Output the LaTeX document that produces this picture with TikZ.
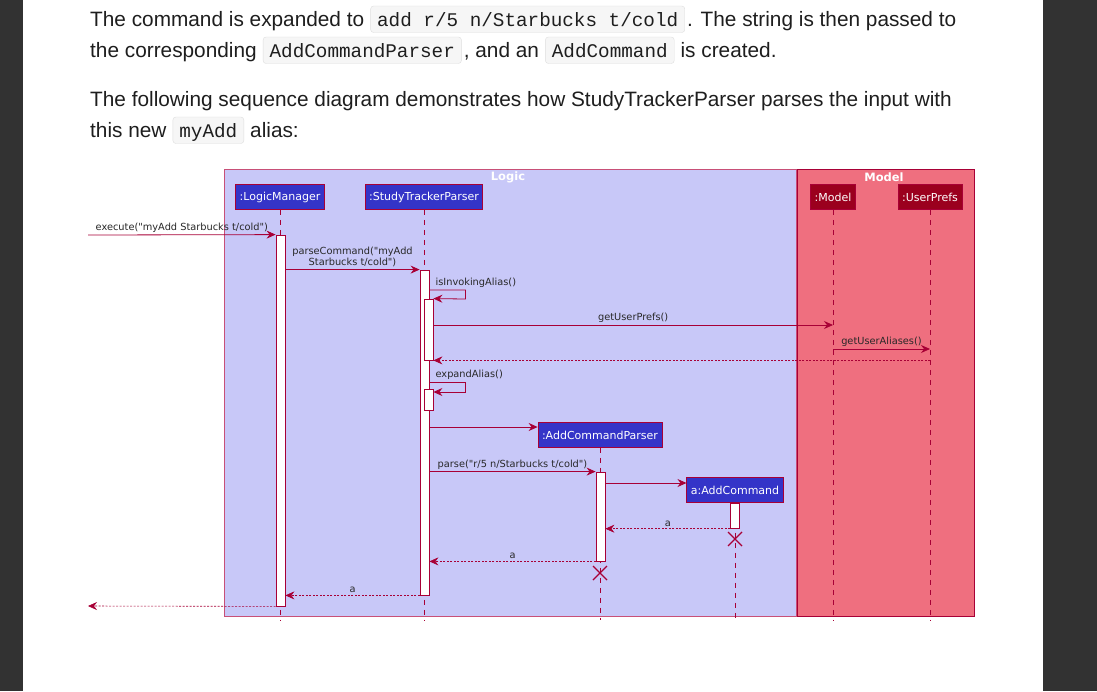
\documentclass[tikz,border=0pt]{standalone}
\usepackage{fontspec}
\setmainfont{Liberation Sans}
\setmonofont{Liberation Mono}
\newfontfamily\umlfont{DejaVu Sans}
\usepackage{tikz}
\usetikzlibrary{arrows.meta, positioning}

\definecolor{crimson}{RGB}{168, 0, 54}
\definecolor{framepink}{RGB}{200, 80, 120}
\definecolor{logicfill}{RGB}{200, 200, 248}
\definecolor{modelfill}{RGB}{239, 111, 127}
\definecolor{partblue}{RGB}{52, 52, 200}
\definecolor{partred}{RGB}{155, 0, 30}
\definecolor{textdark}{RGB}{30, 30, 30}
\definecolor{labeldark}{RGB}{40, 40, 40}
\definecolor{chipbg}{RGB}{246, 246, 246}
\definecolor{chipline}{RGB}{222, 222, 222}
\definecolor{pagedark}{RGB}{50, 50, 50}

\tikzset{
  para/.style={inner sep=0pt, text=textdark, font=\fontsize{20.8}{24}\selectfont},
  chip/.style={draw=chipline, fill=chipbg, rounded corners=3pt, inner xsep=6.5pt,
    inner ysep=0pt, text height=20pt, text depth=6.5pt, text=textdark,
    font=\ttfamily\fontsize{19.3}{23}\selectfont},
  part/.style={draw=crimson, line width=0.8pt, fill=partblue, text=white,
    minimum height=25pt, inner xsep=4pt, font=\umlfont\fontsize{11}{13}\selectfont},
  lifeline/.style={draw=crimson, line width=0.7pt, dash pattern=on 5pt off 5pt},
  act/.style={draw=crimson, line width=0.8pt, fill=white, minimum width=9pt, inner sep=0pt},
  lbl/.style={text=labeldark, inner sep=2pt, font=\umlfont\fontsize{9.8}{11.5}\selectfont},
  msg/.style={draw=crimson, line width=0.8pt, -{Stealth[length=9pt, width=8pt, inset=3pt]}},
  ret/.style={msg, line width=0.6pt, dash pattern=on 2pt off 1.5pt},
  framelbl/.style={text=white, font=\umlfont\bfseries\fontsize{11.5}{14}\selectfont, inner sep=1pt},
}

\begin{document}
\begin{tikzpicture}[x=1pt, y=-1pt]
\useasboundingbox (0,0) rectangle (1097,691);

% page
\fill[pagedark] (0,0) rectangle (1097,691);
\fill[white] (23,0) rectangle (1043,691);

% text above the diagram
\node[para, anchor=base west] (l1a) at (90,26) {The command is expanded to};
\node[chip, base right=6pt of l1a] (l1b) {add r/5 n/Starbucks t/cold};
\node[para, base right=2pt of l1b] (l1c) {. The string is then passed to};

\node[para, anchor=base west] (l2a) at (90,57) {the corresponding};
\node[chip, base right=6pt of l2a] (l2b) {AddCommandParser};
\node[para, base right=2pt of l2b] (l2c) {, and an};
\node[chip, base right=6pt of l2c] (l2d) {AddCommand};
\node[para, base right=6pt of l2d] (l2e) {is created.};

\node[para, anchor=base west] (l3) at (90,106) {The following sequence diagram demonstrates how StudyTrackerParser parses the input with};

\node[para, anchor=base west] (l4a) at (90,137) {this new};
\node[chip, base right=6pt of l4a] (l4b) {myAdd};
\node[para, base right=6pt of l4b] (l4c) {alias:};

% boxes
\draw[framepink, line width=0.8pt, fill=logicfill] (224,169) rectangle (796,616);
\draw[crimson, line width=0.8pt, fill=modelfill] (797,169) rectangle (974,616);
\node[framelbl] (logiclbl) at (508,177) {Logic};
\node[framelbl] (modellbl) at (884,177) {Model};

% participants
\node[part] (lm) at (280,197) {:LogicManager};
\node[part] (stp) at (424,197) {:StudyTrackerParser};
\node[part, fill=partred] (mdl) at (833,197) {:Model};
\node[part, fill=partred] (up) at (930,197) {:UserPrefs};
\node[part] (acp) at (600,435) {:AddCommandParser};
\node[part] (ac) at (735,490) {a:AddCommand};

% lifelines
\draw[lifeline] (lm.south) -- (lm.south |- 0,620);
\draw[lifeline] (stp.south) -- (stp.south |- 0,620);
\draw[lifeline] (mdl.south) -- (mdl.south |- 0,620);
\draw[lifeline] (up.south) -- (up.south |- 0,620);
\draw[lifeline] (acp.south) -- (acp.south |- 0,620);
\draw[lifeline] (ac.south) -- (ac.south |- 0,620);

% activations
\node[act, minimum height=371pt] (lmact) at (280.5,420.5) {};
\node[act, minimum height=325pt] (stpact) at (424.5,432.5) {};
\node[act, minimum height=61pt] (stpn1) at (428.5,329.5) {};
\node[act, minimum height=21pt] (stpn2) at (428.5,399.5) {};
\node[act, minimum height=89pt] (acpact) at (600.5,516.5) {};
\node[act, minimum height=25pt, anchor=north] (acact) at (ac.south) {};

% messages
\coordinate (callin) at (88,235);
\coordinate (callout) at (88,606);
\draw[msg] (callin) -- (lmact.north west)
      node[midway, lbl, above] (lblexec) {execute("myAdd Starbucks t/cold")};
\draw[msg] (lmact.east |- stpact.north) -- (stpact.north west)
      node[midway, lbl, above, align=center] (lblparse) {parseCommand("myAdd\\Starbucks t/cold")};
\draw[msg] (stpact.east |- 0,290) -- ++(36,0) -- ++(0,9) -- (stpn1.north east);
\node[lbl, above right, xshift=4pt] (lblinv) at (stpact.east |- 0,290) {isInvokingAlias()};
\draw[msg] (stpn1.east |- 0,325) -- (mdl |- 0,325)
      node[midway, lbl, above] (lblprefs) {getUserPrefs()};
\draw[msg] (mdl |- 0,349) -- (up |- 0,349)
      node[midway, lbl, above] (lblaliases) {getUserAliases()};
\draw[ret] (up |- stpn1.south) -- (stpn1.south east);
\draw[msg] (stpact.east |- 0,382) -- ++(36,0) -- ++(0,10) -- (stpn2.east |- 0,392);
\node[lbl, above right, xshift=4pt] (lblexp) at (stpact.east |- 0,382) {expandAlias()};
\draw[msg] (stpact.east |- 0,427) -- (acp.west |- 0,427);
\draw[msg] (stpact.east |- acpact.north) -- (acpact.north west)
      node[midway, lbl, above] (lblp) {parse("r/5 n/Starbucks t/cold")};
\draw[msg] (acpact.east |- 0,483) -- (ac.west |- 0,483);
\draw[ret] (acact.south west) -- (acpact.east |- acact.south)
      node[midway, lbl, above] (lblret1) {a};
\draw[ret] (acpact.south west) -- (stpact.east |- acpact.south)
      node[midway, lbl, above] (lblret2) {a};
\draw[ret] (stpact.south west) -- (lmact.east |- stpact.south)
      node[midway, lbl, above] (lblret3) {a};
\draw[ret] (lmact.south west) -- (callout);

% destroyed
\draw[crimson, line width=1.1pt] (728,532) -- (742,546) (728,546) -- (742,532);
\draw[crimson, line width=1.1pt] (593,566) -- (607,580) (593,580) -- (607,566);

\end{tikzpicture}
\end{document}
